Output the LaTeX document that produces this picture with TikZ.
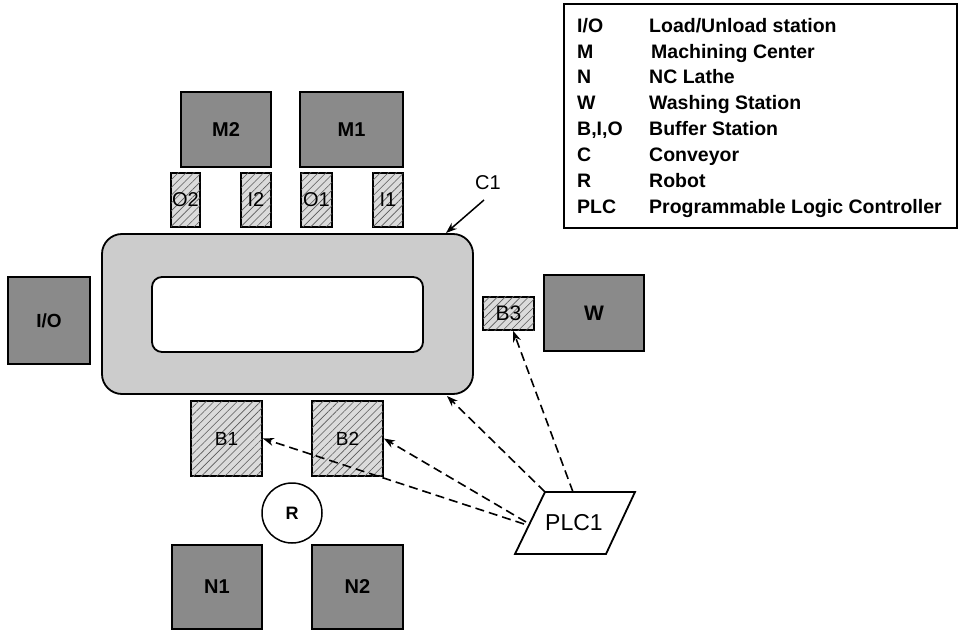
\documentclass[tikz,border=0pt]{standalone}
\usepackage{fontspec}
\setmainfont{Liberation Sans}
\usetikzlibrary{arrows.meta,patterns.meta,calc}
\begin{document}
\begin{tikzpicture}[x=1pt,y=-1pt,
  machine/.style={draw=black,line width=1.8pt,fill=black!46,inner sep=0pt,
    font=\fontsize{20}{20}\selectfont\bfseries},
  buffer/.style={draw=black,line width=1.8pt,fill=black!14,inner sep=0pt,
    postaction={pattern={Lines[angle=45,distance=5.5pt,line width=0.6pt]},pattern color=black!65},
    font=\fontsize{20}{20}\selectfont},
  legtext/.style={anchor=base west,inner sep=0pt,font=\fontsize{19.5}{20}\selectfont\bfseries},
  dasharrow/.style={line width=1.6pt,dash pattern=on 9pt off 5pt,-{Stealth[length=11pt,width=8pt]}},
  solidarrow/.style={line width=1.5pt,-{Stealth[length=11pt,width=8pt]}}]
\useasboundingbox (0,0) rectangle (959,631);

% legend
\node[draw,line width=1.5pt,minimum width=393pt,minimum height=224pt,inner sep=0pt] (legend) at (760.5,116) {};
\node[legtext] (k1) at (577,33) {I/O};   \node[legtext] (v1) at (649,33) {Load/Unload station};
\node[legtext] (k2) at (577,58.5) {M};   \node[legtext] (v2) at (651,58.5) {Machining Center};
\node[legtext] (k3) at (577,84) {N};     \node[legtext] (v3) at (649,84) {NC Lathe};
\node[legtext] (k4) at (577,110) {W};    \node[legtext] (v4) at (649,110) {Washing Station};
\node[legtext] (k5) at (577,136) {B,I,O};\node[legtext] (v5) at (649,136) {Buffer Station};
\node[legtext] (k6) at (577,162) {C};    \node[legtext] (v6) at (649,162) {Conveyor};
\node[legtext] (k7) at (577,188) {R};    \node[legtext] (v7) at (649,188) {Robot};
\node[legtext] (k8) at (577,213.5) {PLC};\node[legtext] (v8) at (649,213.5) {Programmable Logic Controller};

% conveyor
\node[draw,line width=1.8pt,fill=black!20,rounded corners=20pt,minimum width=371pt,minimum height=160pt,inner sep=0pt] (conv) at (287.5,314) {};
\node[draw,line width=1.8pt,fill=white,rounded corners=10pt,minimum width=271pt,minimum height=75pt,inner sep=0pt] (inner) at (287.5,314.5) {};

% machines
\node[machine,minimum width=90pt,minimum height=75pt] (m2) at (226,129.5) {M2};
\node[machine,minimum width=103pt,minimum height=75pt] (m1) at (351.5,129.5) {M1};
\node[machine,minimum width=82pt,minimum height=87pt,font=\fontsize{19}{19}\selectfont\bfseries] (io) at (49,320.5) {I/O};
\node[machine,minimum width=100pt,minimum height=76pt,font=\fontsize{21}{21}\selectfont\bfseries] (w) at (594,313) {W};
\node[machine,minimum width=90pt,minimum height=84pt] (n1) at (217,587) {N1};
\node[machine,minimum width=91pt,minimum height=84pt] (n2) at (357.5,587) {N2};

% buffers
\node[buffer,minimum width=29pt,minimum height=54pt] (o2) at (185.5,200) {O2};
\node[buffer,minimum width=30pt,minimum height=54pt] (i2) at (256,200) {I2};
\node[buffer,minimum width=31pt,minimum height=54pt] (o1) at (316.5,200) {O1};
\node[buffer,minimum width=30pt,minimum height=54pt] (i1) at (388,200) {I1};
\node[buffer,minimum width=51pt,minimum height=33pt,font=\fontsize{21}{21}\selectfont] (b3) at (508.5,313.5) {B3};
\node[buffer,minimum width=71pt,minimum height=75pt,font=\fontsize{19}{19}\selectfont] (b1) at (226.5,438.5) {B1};
\node[buffer,minimum width=71pt,minimum height=75pt,font=\fontsize{19}{19}\selectfont] (b2) at (347.5,438.5) {B2};

% robot
\node[circle,draw,line width=1.5pt,fill=white,minimum size=60pt,inner sep=0pt,font=\fontsize{18}{18}\selectfont\bfseries] (r) at (292,513) {R};

% PLC
\coordinate (plctl) at (545,492);
\coordinate (plctr) at (635,492);
\coordinate (plcbr) at (606,554);
\coordinate (plcbl) at (515,554);
\draw[line width=1.8pt,fill=white] (plctl) -- (plctr) -- (plcbr) -- (plcbl) -- cycle;
\node[font=\fontsize{23}{23}\selectfont,inner sep=0pt] (plc) at (574,523) {PLC1};
\coordinate (plctop) at (573,492);
\coordinate (plcw) at (526,522);
\coordinate (plcw2) at (524,524);
\coordinate (convtip) at (447,396);

% C1 label
\node[font=\fontsize{20}{20}\selectfont,inner sep=0pt] (c1) at (488,183) {C1};
\coordinate (c1start) at (484,200);
\coordinate (c1tip) at (446,233);
\draw[solidarrow] (c1start) -- (c1tip);

% PLC connectors
\draw[dasharrow] (plctop) -- (b3.-75);
\draw[dasharrow] (plctl) -- (convtip);
\draw[dasharrow] (plcw) -- (b2.east);
\draw[dasharrow] (plcw2) -- (b1.east);
\end{tikzpicture}
\end{document}
